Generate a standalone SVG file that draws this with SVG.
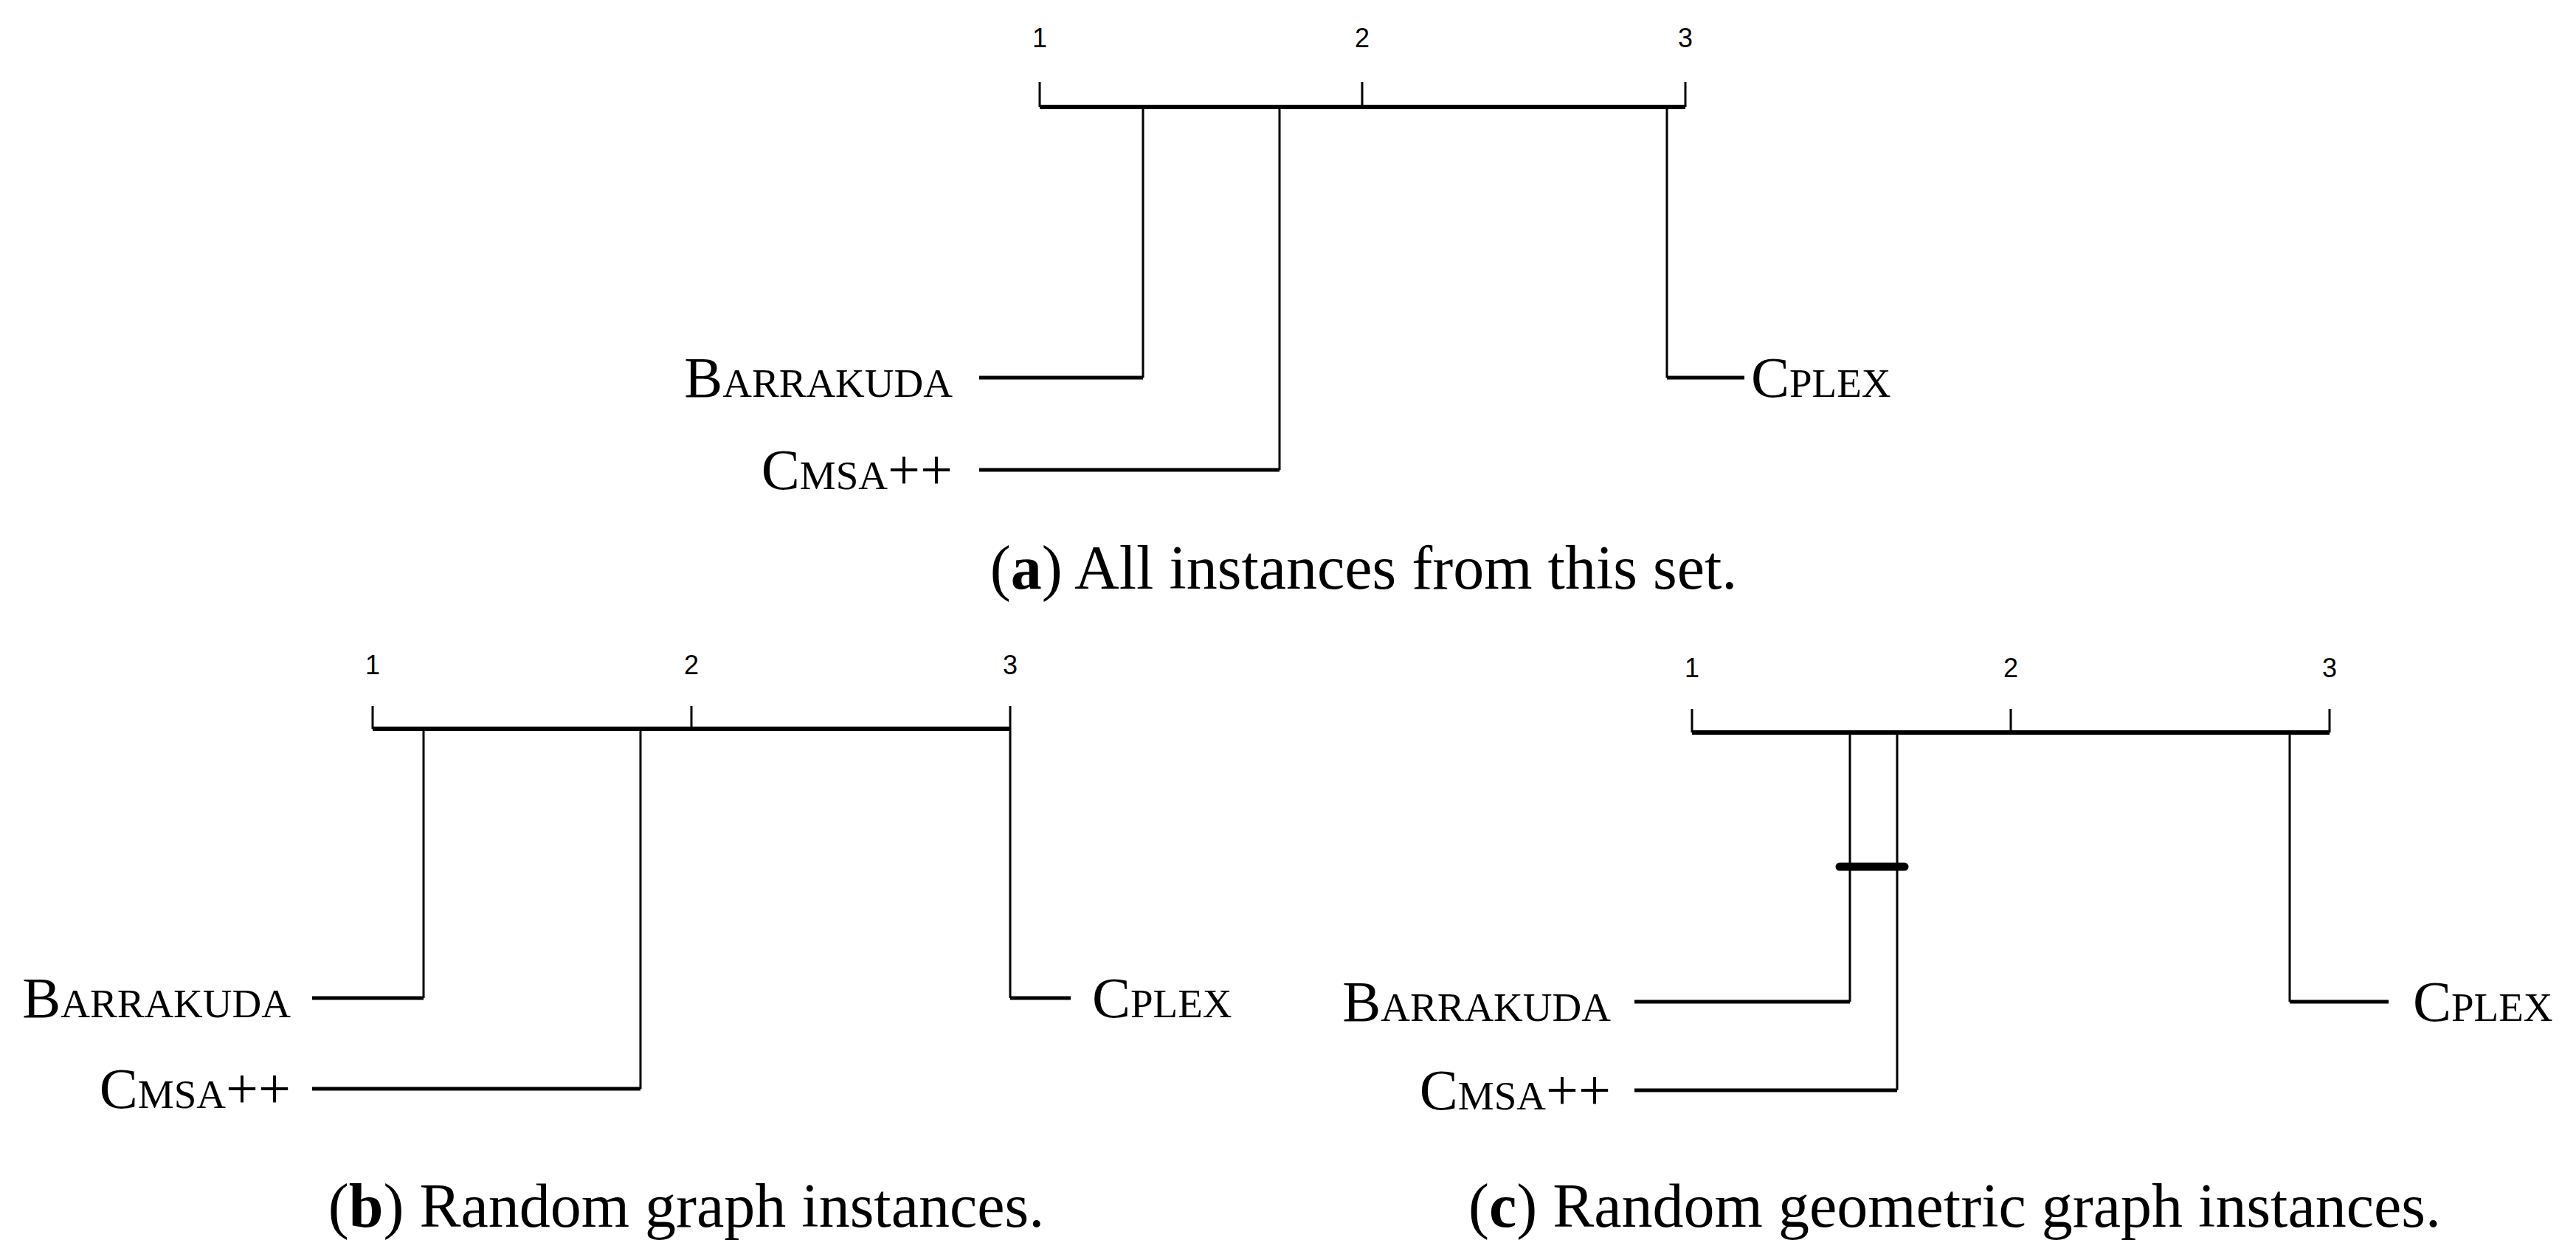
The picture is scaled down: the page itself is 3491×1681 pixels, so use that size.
<svg xmlns="http://www.w3.org/2000/svg" width="3491" height="1681" viewBox="0 0 3491 1681">
<style>
.ax{stroke:#000;stroke-width:6;fill:none}
.tk{stroke:#000;stroke-width:3;fill:none}
.v{stroke:#000;stroke-width:3;fill:none}
.h{stroke:#000;stroke-width:5;fill:none}
.num{font-family:"Liberation Sans",sans-serif;font-size:36px;text-anchor:middle}
.lab{font-family:"Liberation Serif",serif;font-size:78px;font-variant:small-caps}
.cap{font-family:"Liberation Serif",serif;font-size:84px;text-anchor:middle}
</style>
<rect width="3491" height="1681" fill="#fff"/>
<g id="panel-a">
<g id="axis-a">
<line class="ax" x1="1409" y1="145" x2="2284" y2="145"/>
<line class="tk" x1="1409" y1="111" x2="1409" y2="145"/>
<line class="tk" x1="1846" y1="111" x2="1846" y2="145"/>
<line class="tk" x1="2284" y1="111" x2="2284" y2="145"/>
<text class="num" x="1409" y="64">1</text>
<text class="num" x="1846" y="64">2</text>
<text class="num" x="2284" y="64">3</text>
</g>
<g id="connectors-a">
<polyline class="v" points="1549,145 1549,512"/>
<line class="h" x1="1327" y1="512" x2="1549" y2="512"/>
<polyline class="v" points="1734,145 1734,637"/>
<line class="h" x1="1327" y1="637" x2="1734" y2="637"/>
<polyline class="v" points="2259,145 2259,512"/>
<line class="h" x1="2259" y1="512" x2="2364" y2="512"/>
</g>
<g id="a-barrakuda"><text class="lab" x="1291" y="538" text-anchor="end">Barrakuda</text></g>
<g id="a-cmsa"><text class="lab" x="1291" y="663" text-anchor="end">Cmsa++</text></g>
<g id="a-cplex"><text class="lab" x="2373" y="538">Cplex</text></g>
<text class="cap" x="1848" y="798">(<tspan font-weight="bold">a</tspan>) All instances from this set.</text>
</g>
<g id="panel-b">
<g id="axis-b">
<line class="ax" x1="505" y1="988" x2="1369" y2="988"/>
<line class="tk" x1="505" y1="957" x2="505" y2="988"/>
<line class="tk" x1="937" y1="957" x2="937" y2="988"/>
<line class="tk" x1="1369" y1="957" x2="1369" y2="988"/>
<text class="num" x="505" y="914">1</text>
<text class="num" x="937" y="914">2</text>
<text class="num" x="1369" y="914">3</text>
</g>
<g id="connectors-b">
<line class="v" x1="574" y1="988" x2="574" y2="1353"/>
<line class="h" x1="423" y1="1353" x2="574" y2="1353"/>
<line class="v" x1="868" y1="988" x2="868" y2="1476"/>
<line class="h" x1="423" y1="1476" x2="868" y2="1476"/>
<line class="v" x1="1369" y1="988" x2="1369" y2="1353"/>
<line class="h" x1="1369" y1="1353" x2="1451" y2="1353"/>
</g>
<g id="b-barrakuda"><text class="lab" x="394" y="1379" text-anchor="end">Barrakuda</text></g>
<g id="b-cmsa"><text class="lab" x="394" y="1502" text-anchor="end">Cmsa++</text></g>
<g id="b-cplex"><text class="lab" x="1480" y="1379">Cplex</text></g>
<text class="cap" x="930" y="1663">(<tspan font-weight="bold">b</tspan>) Random graph instances.</text>
</g>
<g id="panel-c">
<g id="axis-c">
<line class="ax" x1="2293" y1="993" x2="3157" y2="993"/>
<line class="tk" x1="2293" y1="961" x2="2293" y2="993"/>
<line class="tk" x1="2725" y1="961" x2="2725" y2="993"/>
<line class="tk" x1="3157" y1="961" x2="3157" y2="993"/>
<text class="num" x="2293" y="918">1</text>
<text class="num" x="2725" y="918">2</text>
<text class="num" x="3157" y="918">3</text>
</g>
<g id="connectors-c">
<line class="v" x1="2507" y1="993" x2="2507" y2="1358"/>
<line class="h" x1="2215" y1="1358" x2="2507" y2="1358"/>
<line class="v" x1="2571" y1="993" x2="2571" y2="1478"/>
<line class="h" x1="2215" y1="1478" x2="2571" y2="1478"/>
<line class="v" x1="3103" y1="993" x2="3103" y2="1358"/>
<line class="h" x1="3103" y1="1358" x2="3237" y2="1358"/>
<line stroke="#000" stroke-width="11" stroke-linecap="round" x1="2493" y1="1175" x2="2581" y2="1175"/>
</g>
<g id="c-barrakuda"><text class="lab" x="2183" y="1384" text-anchor="end">Barrakuda</text></g>
<g id="c-cmsa"><text class="lab" x="2183" y="1504" text-anchor="end">Cmsa++</text></g>
<g id="c-cplex"><text class="lab" x="3270" y="1384">Cplex</text></g>
<text class="cap" x="2649" y="1663">(<tspan font-weight="bold">c</tspan>) Random geometric graph instances.</text>
</g>
</svg>
